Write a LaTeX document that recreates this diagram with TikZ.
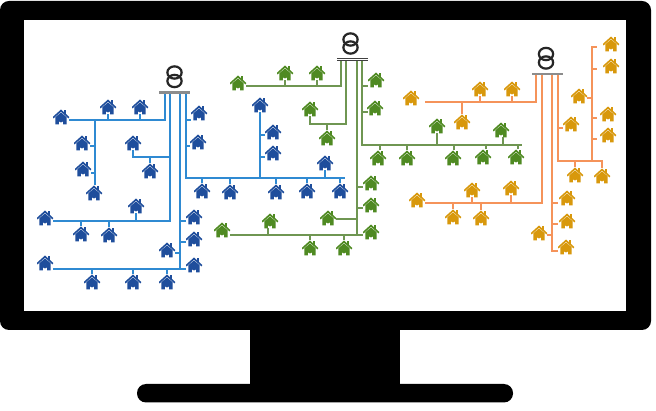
\documentclass[tikz,border=0pt]{standalone}
\usepackage{tikz}
\usetikzlibrary{arrows.meta,positioning,calc,shapes.geometric}
\definecolor{hblue}{HTML}{1F4E9C}
\definecolor{hgreen}{HTML}{4F8A22}
\definecolor{hgold}{HTML}{D8980C}
\definecolor{wblue}{HTML}{2F8AD2}
\definecolor{wgreen}{HTML}{6F9652}
\definecolor{wgold}{HTML}{F5935A}
\newcommand{\housepath}[1]{%
  \fill[#1] (-5.6,0.2) -- (0,-4.6) -- (5.6,0.2) -- (5.6,7.4) -- (2.2,7.4) -- (2.2,3.2)
    arc (0:180:2.2) -- (-2.2,7.4) -- (-5.6,7.4) -- cycle;
  \draw[#1,line width=1.6pt] (-8,0.8) -- (0,-6.4) -- (8,0.8);
  \fill[#1] (3.4,-6.6) rectangle (5.4,-3.4);
}
\tikzset{
  house/.style ={minimum width=16pt,minimum height=15pt,inner sep=0pt,outer sep=0pt},
  bhouse/.style={house,path picture={\housepath{hblue}}},
  ghouse/.style={house,path picture={\housepath{hgreen}}},
  ohouse/.style={house,path picture={\housepath{hgold}}},
  bw/.style    ={wblue,line width=1.4pt},
  gw/.style    ={wgreen,line width=1.4pt},
  ow/.style    ={wgold,line width=1.4pt},
  busbar/.style={fill=black!45,minimum width=31pt,minimum height=2.6pt,inner sep=0pt,outer sep=0pt},
  coil/.style  ={ellipse,draw=black!85,line width=2.2pt,minimum width=14.3pt,minimum height=12.3pt,inner sep=0pt},
}
\begin{document}
\begin{tikzpicture}[x=1pt,y=-1pt]
  \useasboundingbox (0,0) rectangle (656,411);
  % monitor
  \fill[rounded corners=9pt] (0,1) rectangle (651,330);
  \fill[white] (24,20) rectangle (626,311.5);
  \fill (250,325) rectangle (400,390);
  \fill[rounded corners=9pt] (137,384) rectangle (513,402.5);
  % transformers
  \foreach \n/\x/\y in {bta/174.5/72.5,btb/174.5/81,gta/350.5/39.5,gtb/350.5/47.5,ota/546/54,otb/546/62.5}
    \node[coil] (\n) at (\x,\y) {};
  \node[busbar] (bbus) at (174.5,92.7) {};
  \node[busbar,minimum height=3.2pt,fill=black!75] (gbus) at (352,59.5) {};
  \draw[white,line width=0.5pt] (gbus.west) -- (gbus.east);
  \node[busbar] (obus) at (547,74) {};
  % houses
  \foreach \n/\x/\y in {b1/61/117,b2/108/107,b3/140/107,b4/199/113,b5/198/142,b6/82/143,
      b7/83/169,b8/94/193,b9/133/143,b10/150/171,b11/136/206,b12/45/218,b13/81/234,
      b14/109/235,b15/194/217,b16/194/239,b17/167/250,b18/194/265,b19/45/263,b20/92/282,
      b21/133/282,b22/167/282,b23/202/191,b24/230/192,b25/276/192,b26/307/191,b27/340/191,
      b28/325/163,b29/260/105,b30/273/132,b31/273/153}
    \node[bhouse] (\n) at (\x,\y) {};
  \foreach \n/\x/\y in {g1/238/83,g2/285/73,g3/317/73,g4/310/109,g5/327/138,g6/371/183,
      g7/371/205,g8/371/232,g9/328/218,g10/222/230,g11/270/221,g12/310/248,g13/344/248,
      g14/376/80,g15/375/108,g16/378/158,g17/407/158,g18/453/158,g19/483/157,g20/516/157,
      g21/437/126,g22/501/130}
    \node[ghouse] (\n) at (\x,\y) {};
  \foreach \n/\x/\y in {o1/411/98,o2/480/89,o3/512/89,o4/462/122,o5/417/200,o6/472/190,
      o7/511/188,o8/453/217,o9/481/218,o10/567/198,o11/567/221,o12/566/247,o13/539/233,
      o14/571/124,o15/575/175,o16/602/176,o17/611/44,o18/611/66,o19/579/96,o20/608/114,
      o21/608/135}
    \node[ohouse] (\n) at (\x,\y) {};
  % blue wires
  \coordinate (ba) at (165,120); \coordinate (bb) at (95,120); \coordinate (bc) at (170,221);
  \coordinate (bd) at (170,157); \coordinate (be) at (180,269); \coordinate (bf) at (186,178);
  \coordinate (bg) at (260,178);
  \draw[bw] (bbus.south -| ba) -- (ba) -- (b1.east |- ba);
  \foreach \h in {b2,b3} \draw[bw] (\h.south) -- (\h.south |- ba);
  \draw[bw] (bb) -- (b8.north -| bb);
  \draw[bw] (bb |- 0,146) -- (b6.east |- 0,146);
  \draw[bw] (bb |- 0,173) -- (b7.east |- 0,173);
  \draw[bw] (bbus.south -| bc) -- (bc) -- (b12.east |- bc);
  \foreach \h in {b13,b14} \draw[bw] (\h.north) -- (\h.north |- bc);
  \draw[bw] (b11.south) -- (b11.south |- bc);
  \draw[bw] (bd) -- (bd -| b9.south) -- (b9.south);
  \draw[bw] (b10.north) -- (b10.north |- bd);
  \draw[bw] (bbus.south -| be) -- (be) -- (b19.east |- be);
  \draw[bw] (be) -- (b18.west |- be);
  \foreach \h/\y in {b15/221,b16/242} \draw[bw] (be |- 0,\y) -- (\h.west |- 0,\y);
  \draw[bw] (be |- 0,253) -- (b17.east |- 0,253);
  \foreach \h in {b20,b21,b22} \draw[bw] (\h.north) -- (\h.north |- be);
  \draw[bw] (bbus.south -| bf) -- (bf) -- (345,178);
  \foreach \h/\y in {b4/120,b5/146} \draw[bw] (bf |- 0,\y) -- (\h.west |- 0,\y);
  \foreach \h in {b23,b24,b25,b26,b27} \draw[bw] (\h.north) -- (\h.north |- bf);
  \draw[bw] (b28.south) -- (b28.south |- bf);
  \draw[bw] (bg) -- (b29.south);
  \foreach \h/\y in {b30/135,b31/157} \draw[bw] (bg |- 0,\y) -- (\h.west |- 0,\y);
  % green wires
  \coordinate (ga) at (341,86); \coordinate (gb) at (346,124); \coordinate (gc) at (357,235);
  \coordinate (gd) at (362,145);
  \draw[gw] (gbus.south -| ga) -- (ga) -- (g1.east |- ga);
  \foreach \h in {g2,g3} \draw[gw] (\h.south) -- (\h.south |- ga);
  \draw[gw] (gbus.south -| gb) -- (gb) -- (gb -| g4.south) -- (g4.south);
  \draw[gw] (g5.north) -- (g5.north |- gb);
  \draw[gw] (gbus.south -| gc) -- (gc) -- (g10.east |- gc);
  \draw[gw] (gc) -- (g8.west |- gc);
  \foreach \h/\y in {g6/187,g7/208} \draw[gw] (gc |- 0,\y) -- (\h.west |- 0,\y);
  \draw[gw] (gc |- 0,219) -- (g9.east |- 0,219);
  \draw[gw] ([xshift=-2pt]g11.south) -- ([xshift=-2pt]g11.south |- gc);
  \foreach \h in {g12,g13} \draw[gw] (\h.north) -- (\h.north |- gc);
  \draw[gw] (gbus.south -| gd) -- (gd) -- (522,145);
  \foreach \h/\y in {g14/86,g15/112} \draw[gw] (gd |- 0,\y) -- (368,\y);
  \foreach \h/\d in {g16/2,g17/0,g18/1,g19/3,g20/2} \draw[gw] ([xshift=\d pt]\h.north) -- ([xshift=\d pt]\h.north |- gd);
  \foreach \h/\d in {g21/0,g22/2} \draw[gw] ([xshift=\d pt]\h.south) -- ([xshift=\d pt]\h.south |- gd);
  % orange wires
  \coordinate (oa) at (536,102); \coordinate (ob) at (542,203); \coordinate (oc) at (552,251);
  \coordinate (od) at (558,161); \coordinate (oe) at (592,161);
  \draw[ow] (obus.south -| oa) -- (oa) -- (425,102);
  \foreach \h in {o2,o3} \draw[ow] (\h.south) -- (\h.south |- oa);
  \draw[ow] (o4.north) -- (o4.north |- oa);
  \draw[ow] (obus.south -| ob) -- (ob) -- (425,203);
  \foreach \h in {o6,o7} \draw[ow] (\h.south) -- (\h.south |- ob);
  \foreach \h in {o8,o9} \draw[ow] (\h.north) -- (\h.north |- ob);
  \draw[ow] (obus.south -| oc) -- (oc) -- (558,251);
  \foreach \y in {203,224} \draw[ow] (oc |- 0,\y) -- (558,\y);
  \draw[ow] (oc |- 0,235) -- (o13.east |- 0,235);
  \draw[ow] (obus.south -| od) -- (od) -- (602,161) -- (o16.north);
  \draw[ow] (o15.north) -- (o15.north |- od);
  \draw[ow] (od |- 0,128) -- (o14.west |- 0,128);
  \draw[ow] (oe) -- (592,47) -- (597,47);
  \foreach \y in {69,118,139} \draw[ow] (oe |- 0,\y) -- (597,\y);
  \draw[ow] (oe |- 0,98) -- (o19.east |- 0,98);
\end{tikzpicture}
\end{document}
